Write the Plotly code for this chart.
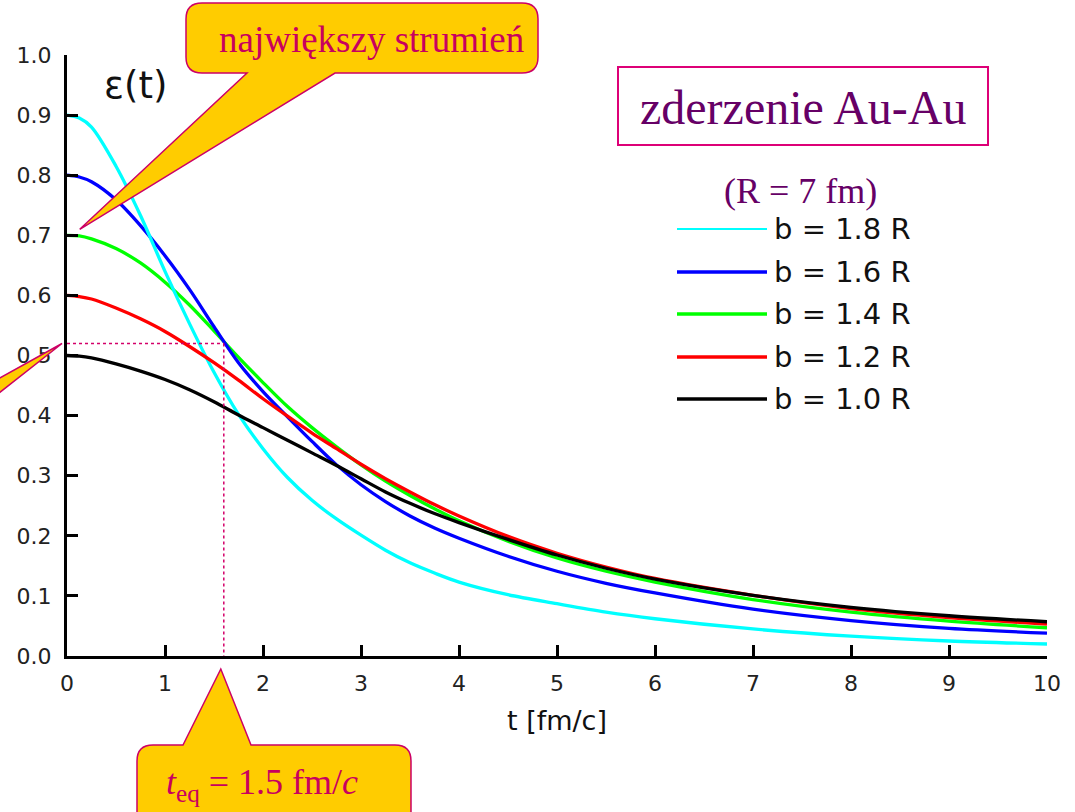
import plotly.graph_objects as go

# Energy density eps(t) for Au-Au collisions at different impact parameters
t = [0, 0.125, 0.25, 0.5, 0.75, 1.0, 1.25, 1.5, 1.75, 2.0, 2.25, 2.5, 2.75, 3.0, 3.25, 3.5, 3.75, 4.0,
     4.5, 5.0, 5.5, 6.0, 7.0, 8.0, 9.0, 10.0]

eps_b18 = [0.900, 0.895, 0.880, 0.815, 0.733, 0.640, 0.553, 0.472, 0.402, 0.345, 0.297, 0.259, 0.228, 0.201,
           0.176, 0.155, 0.138, 0.123, 0.102, 0.087, 0.073, 0.062, 0.045, 0.033, 0.025, 0.020]
eps_b16 = [0.800, 0.797, 0.789, 0.759, 0.716, 0.666, 0.610, 0.548, 0.488, 0.440, 0.398, 0.357, 0.318, 0.285,
           0.257, 0.233, 0.213, 0.196, 0.166, 0.141, 0.121, 0.105, 0.078, 0.059, 0.046, 0.038]
eps_b14 = [0.700, 0.699, 0.694, 0.678, 0.654, 0.622, 0.584, 0.541, 0.497, 0.455, 0.415, 0.380, 0.348, 0.318,
           0.291, 0.267, 0.245, 0.225, 0.191, 0.163, 0.141, 0.123, 0.094, 0.073, 0.058, 0.047]
eps_b12 = [0.600, 0.598, 0.594, 0.579, 0.561, 0.540, 0.515, 0.488, 0.459, 0.428, 0.399, 0.371, 0.345, 0.319,
           0.295, 0.273, 0.252, 0.233, 0.199, 0.171, 0.148, 0.129, 0.101, 0.079, 0.064, 0.053]
eps_b10 = [0.500, 0.499, 0.496, 0.486, 0.474, 0.460, 0.443, 0.423, 0.401, 0.380, 0.359, 0.338, 0.317, 0.295,
           0.273, 0.254, 0.237, 0.222, 0.194, 0.168, 0.146, 0.128, 0.101, 0.081, 0.067, 0.057]

series_names = ["b = 1.8 R", "b = 1.6 R", "b = 1.4 R", "b = 1.2 R", "b = 1.0 R"]
series_values = [eps_b18, eps_b16, eps_b14, eps_b12, eps_b10]
series_colors = ["#00FFFF", "#0000FF", "#00FF00", "#FF0000", "#000000"]
legend_widths = [2, 3.5, 3.5, 3.5, 3.5]

# equilibration point marked with dotted guide lines
t_eq = 1.6
eps_eq = 0.52
peak_point = (0.13, 0.71)

x_ticks = list(range(0, 11))
y_ticks = [round(0.1 * i, 1) for i in range(11)]

# page geometry (pixels)
W, H = 1075, 812
PL, PT, PW, PH = 67, 55, 980, 601

def px(x):
    return (x - PL) / PW

def py(y):
    return (PT + PH - y) / PH

def dx(v):
    return PL + v / 10.0 * PW

def dy(v):
    return PT + PH - v * PH

fig = go.Figure()

draw_order = [2, 1, 0, 3, 4]
for i in draw_order:
    fig.add_trace(go.Scatter(
        x=t, y=series_values[i], mode="lines", name=series_names[i],
        line=dict(color=series_colors[i], width=3.3, shape="spline", smoothing=0.9),
        showlegend=False, hoverinfo="skip"))

shapes = []

# dotted guides at the equilibration time
guide = dict(color="#D4006A", width=1.5, dash="dot")
shapes.append(dict(type="line", xref="x", yref="y", x0=0, x1=t_eq, y0=eps_eq, y1=eps_eq, line=guide, layer="above"))
shapes.append(dict(type="line", xref="x", yref="y", x0=t_eq, x1=t_eq, y0=eps_eq, y1=0, line=guide, layer="above"))

BUB_FILL = "#FFCC00"
BUB_LINE = "#CC0066"

def bubble(left, top, right, bottom, r, base_a, base_b, tip, side):
    """Rounded speech bubble; pointer leaves from the bottom or top edge."""
    P = lambda x, y: f"{px(x):.5f},{py(y):.5f}"
    segs = [f"M {P(left + r, top)}"]
    if side == "top":
        segs += [f"L {P(base_a, top)}", f"L {P(*tip)}", f"L {P(base_b, top)}"]
    segs += [f"L {P(right - r, top)}", f"Q {P(right, top)} {P(right, top + r)}",
             f"L {P(right, bottom - r)}", f"Q {P(right, bottom)} {P(right - r, bottom)}"]
    if side == "bottom":
        segs += [f"L {P(base_b, bottom)}", f"L {P(*tip)}", f"L {P(base_a, bottom)}"]
    segs += [f"L {P(left + r, bottom)}", f"Q {P(left, bottom)} {P(left, bottom - r)}",
             f"L {P(left, top + r)}", f"Q {P(left, top)} {P(left + r, top)}", "Z"]
    return dict(type="path", xref="paper", yref="paper", path=" ".join(segs),
                fillcolor=BUB_FILL, line=dict(color=BUB_LINE, width=1.5), layer="above")

# top callout pointing at the b = 1.4 R start
shapes.append(bubble(186, 3, 538, 73, 16, 247, 335, (dx(peak_point[0]), dy(peak_point[1])), "bottom"))
# bottom callout pointing at t_eq on the time axis
shapes.append(bubble(137, 745, 411, 840, 16, 183, 251, (dx(t_eq) - 3, dy(0) + 13), "top"))
# pointer of a callout sitting beyond the left edge
shapes.append(dict(type="path", xref="paper", yref="paper",
                   path=f"M {px(-20)},{py(389)} L {px(dx(0) - 5)},{py(dy(eps_eq))} L {px(-20)},{py(408)} Z",
                   fillcolor=BUB_FILL, line=dict(color=BUB_LINE, width=1.5), layer="above"))

# title box
shapes.append(dict(type="rect", xref="paper", yref="paper", x0=px(618), x1=px(988), y0=py(67), y1=py(145),
                   line=dict(color="#DD0077", width=2), fillcolor="white", layer="above"))

def label(text, x, y, size, color, family, xanchor="center"):
    return dict(text=text, x=px(x), y=py(y), xref="paper", yref="paper",
                xanchor=xanchor, yanchor="middle", showarrow=False,
                font=dict(family=family, size=size, color=color))

annotations = [
    label("największy strumień", 371, 39, 37, "#C8005F", "Liberation Serif"),
    label("<i>t</i><sub>eq</sub> = 1.5 fm/<i>c</i>", 262, 784, 36, "#C8005F", "Liberation Serif"),
    label("zderzenie Au-Au", 803, 107, 48, "#660066", "Liberation Serif"),
    label("(R = 7 fm)", 800, 191, 36, "#660066", "Liberation Serif"),
    label("ε(t)", 102, 86, 37, "#111111", "DejaVu Sans", xanchor="left"),
]

# legend drawn as line samples with labels
legend_rows = [229, 272, 314, 357, 399]
for i, yrow in enumerate(legend_rows):
    shapes.append(dict(type="line", xref="paper", yref="paper", x0=px(677), x1=px(767),
                       y0=py(yrow), y1=py(yrow),
                       line=dict(color=series_colors[i], width=legend_widths[i]), layer="above"))
    annotations.append(label(series_names[i], 772, yrow, 29, "#111111", "DejaVu Sans", xanchor="left"))

axis_common = dict(showline=True, linewidth=3, linecolor="black", ticks="inside", ticklen=11,
                   tickwidth=3, tickcolor="black", showgrid=False, zeroline=False, mirror=False,
                   tickfont=dict(family="DejaVu Sans", size=22, color="#222222"))

fig.update_layout(
    width=W, height=H,
    margin=dict(l=PL, r=W - PL - PW, t=PT, b=H - PT - PH),
    plot_bgcolor="white", paper_bgcolor="white",
    xaxis=dict(range=[0, 10], tickvals=x_ticks, ticktext=[str(v) for v in x_ticks],
               title=dict(text="t [fm/c]", font=dict(family="DejaVu Sans", size=27, color="#111111"), standoff=16),
               ticklabelstandoff=6, **axis_common),
    yaxis=dict(range=[0, 1.0], tickvals=y_ticks, ticktext=[f"{v:.1f}" for v in y_ticks],
               ticklabelstandoff=8, **axis_common),
    shapes=shapes,
    annotations=annotations,
    showlegend=False,
)

fig.write_html("out.html")
